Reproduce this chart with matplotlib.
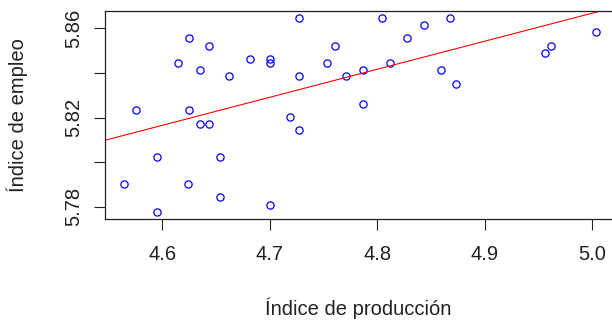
import numpy as np
import matplotlib
matplotlib.use("Agg")
import matplotlib.pyplot as plt

plt.rcParams['font.family'] = ['Liberation Sans', 'DejaVu Sans']

produccion = [4.7268, 4.6244, 4.6438, 4.7610, 4.6146, 4.6353, 4.6818, 4.7001, 4.7001,
              4.7536, 4.6622, 4.7268, 4.7710, 4.5755, 4.6244, 4.6353, 4.6438, 4.7184,
              4.7268, 4.5951, 4.6538, 4.5643, 4.6242, 4.6538, 4.5951, 4.7001, 4.8039,
              4.8434, 4.8680, 4.8275, 4.8114, 4.7869, 4.8592, 4.8736, 4.7869, 4.9559,
              4.9618, 5.0035]
empleo = [5.8645, 5.8555, 5.8521, 5.8521, 5.8444, 5.8414, 5.8461, 5.8464, 5.8443,
          5.8444, 5.8385, 5.8385, 5.8385, 5.8234, 5.8233, 5.8173, 5.8173, 5.8204,
          5.8144, 5.8022, 5.8022, 5.7903, 5.7903, 5.7845, 5.7779, 5.7809, 5.8645,
          5.8615, 5.8645, 5.8555, 5.8444, 5.8414, 5.8414, 5.8350, 5.8262, 5.8491,
          5.8521, 5.8585]
xticks = [4.6, 4.7, 4.8, 4.9, 5.0]
xticklabels = ["4.6", "4.7", "4.8", "4.9", "5.0"]
yticks = [5.78, 5.80, 5.82, 5.84, 5.86]
yticklabels = ["5.78", "", "5.82", "", "5.86"]

x = np.array(produccion)
y = np.array(empleo)

fig = plt.figure(figsize=(6.12, 3.2), dpi=100)
ax = fig.add_axes([105/612, 1 - 219.3/320, 510/612, (219.3 - 10.7)/320])

ax.plot(x, y, linestyle='none', marker='o', markersize=5.2, markerfacecolor='none',
        markeredgecolor='#0000FF', markeredgewidth=0.9)

# R-style 4% axis expansion
xr = x.max() - x.min()
yr = y.max() - y.min()
xlim = (x.min() - 0.04 * xr, x.max() + 0.04 * xr)
ax.set_xlim(*xlim)
ax.set_ylim(y.min() - 0.04 * yr, y.max() + 0.04 * yr)

b, a = np.polyfit(x, y, 1)
xl = np.array(xlim)
ax.plot(xl, a + b * xl, color='#FF0000', lw=0.8)

ax.set_xticks(xticks)
ax.set_xticklabels(xticklabels)
ax.set_yticks(yticks)
ax.set_yticklabels(yticklabels, rotation=90, va='center')
ax.tick_params(axis='both', direction='out', length=8, width=0.8, color='#222222',
               labelsize=14.5, labelcolor='#222222')
ax.tick_params(axis='x', pad=10.5)
ax.tick_params(axis='y', pad=8)
for s in ax.spines.values():
    s.set_color('#222222')
    s.set_linewidth(0.9)

fig.text(358/612, 1 - 308/320, "Índice de producción", ha='center', va='center',
         fontsize=14.5, color='#222222')
fig.text(17/612, 1 - 115/320, "Índice de empleo", ha='center', va='center',
         rotation=90, fontsize=14.5, color='#222222')

fig.savefig("out.png", dpi=100)
